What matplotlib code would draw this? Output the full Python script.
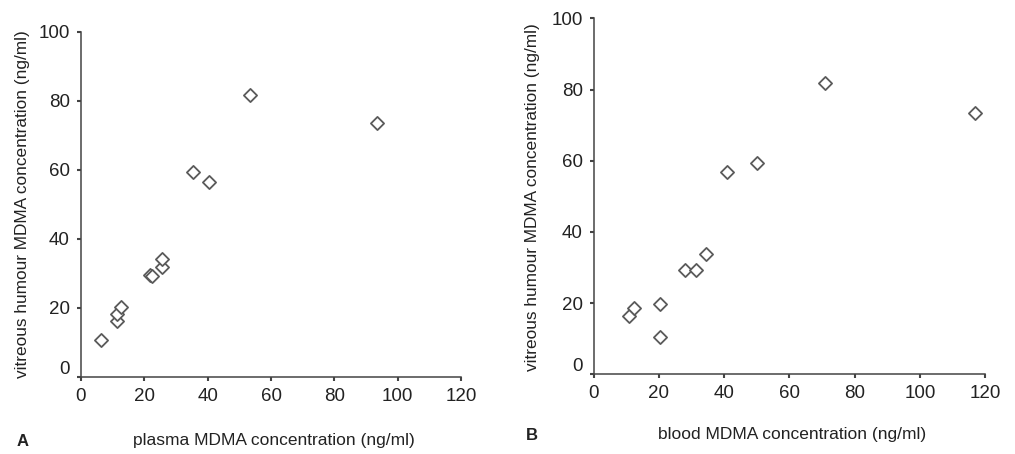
import matplotlib
matplotlib.use('Agg')
from matplotlib import pyplot as plt
from matplotlib import transforms

plt.rcParams['font.family'] = ['Liberation Sans', 'DejaVu Sans']

# panel A: plasma vs vitreous humour
plasma_conc = [6.3, 11.3, 11.3, 12.6, 21.8, 22.3, 25.5, 25.7, 35.3, 40.3, 53.4, 93.4]
vitreous_a = [10.7, 16.3, 18.4, 20.2, 29.5, 29.3, 31.8, 34.1, 59.5, 56.6, 81.7, 73.5]

# panel B: blood vs vitreous humour
blood_conc = [10.9, 12.3, 20.2, 20.2, 28.0, 31.4, 34.3, 41.0, 50.1, 71.0, 116.9]
vitreous_b = [16.4, 18.7, 19.8, 10.6, 29.4, 29.4, 33.9, 56.7, 59.4, 81.8, 73.5]

x_ticks = [0, 20, 40, 60, 80, 100, 120]
y_ticks = [0, 20, 40, 60, 80, 100]

TEXT = '#222222'
AXIS = '#444444'
MARK = '#5a5a5a'


def style_axes(ax, fig):
    for side in ['top', 'right']:
        ax.spines[side].set_visible(False)
    for side in ['left', 'bottom']:
        ax.spines[side].set_color(AXIS)
        ax.spines[side].set_linewidth(1.1)
    ax.set_xlim(0, 120)
    ax.set_ylim(0, 100)
    ax.set_xticks(x_ticks)
    ax.set_yticks(y_ticks)
    ax.tick_params(direction='out', length=3, width=1.5, color=AXIS,
                   labelsize=13.5, labelcolor=TEXT)
    ax.tick_params(axis='x', pad=5)
    ax.tick_params(axis='y', pad=5)
    # the "0" label on the y axis sits a little above the axis line
    shift = transforms.ScaledTranslation(0, 0.10, fig.dpi_scale_trans)
    lab = ax.yaxis.get_major_ticks()[0].label1
    lab.set_transform(lab.get_transform() + shift)


fig = plt.figure(figsize=(10.15, 4.54), dpi=100)

ax1 = fig.add_axes([0.0798, 0.1696, 0.3744, 0.760])
ax1.scatter(plasma_conc, vitreous_a, marker='D', s=45, facecolors='white',
            edgecolors=MARK, linewidths=1.3, clip_on=False, zorder=3)
style_axes(ax1, fig)

ax2 = fig.add_axes([0.585, 0.1756, 0.3855, 0.784])
ax2.scatter(blood_conc, vitreous_b, marker='D', s=45, facecolors='white',
            edgecolors=MARK, linewidths=1.3, clip_on=False, zorder=3)
style_axes(ax2, fig)

# axis titles and panel letters, placed in figure coordinates
fig.text(23 / 1015, 1 - 204 / 454, 'vitreous humour MDMA concentration (ng/ml)',
         rotation=90, ha='center', va='center', fontsize=12.4, color=TEXT)
fig.text(532 / 1015, 1 - 197 / 454, 'vitreous humour MDMA concentration (ng/ml)',
         rotation=90, ha='center', va='center', fontsize=12.4, color=TEXT)
fig.text(274 / 1015, 1 - 441 / 454, 'plasma MDMA concentration (ng/ml)',
         ha='center', va='center', fontsize=12.5, color=TEXT)
fig.text(792 / 1015, 1 - 435 / 454, 'blood MDMA concentration (ng/ml)',
         ha='center', va='center', fontsize=12.5, color=TEXT)
fig.text(23 / 1015, 1 - 441 / 454, 'A', ha='center', va='center',
         fontsize=12, fontweight='bold', color=TEXT)
fig.text(532 / 1015, 1 - 435 / 454, 'B', ha='center', va='center',
         fontsize=12, fontweight='bold', color=TEXT)

fig.savefig('out.png', dpi=100)
